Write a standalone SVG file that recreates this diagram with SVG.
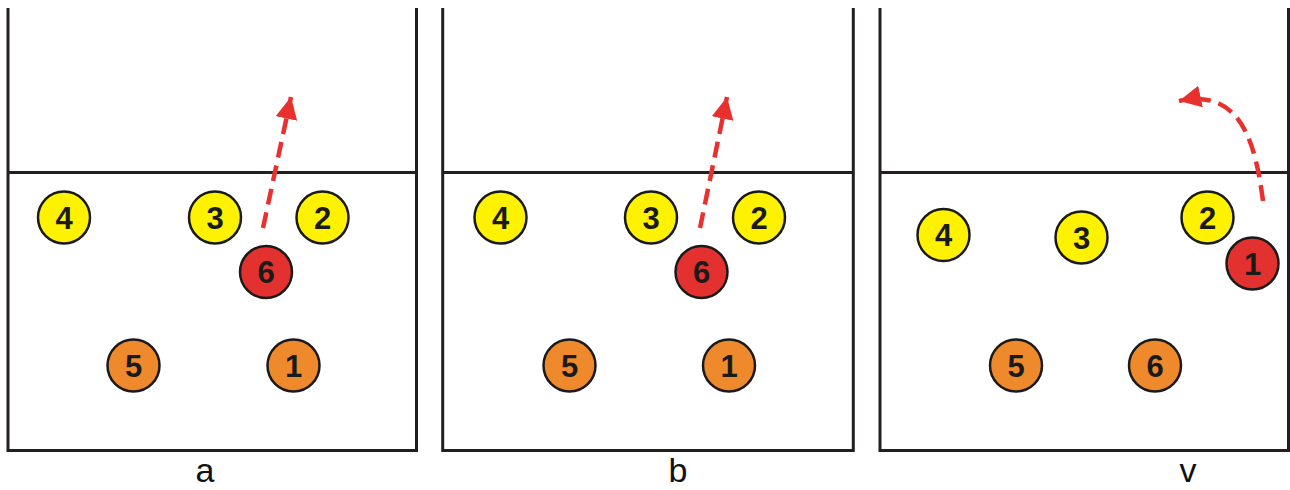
<svg xmlns="http://www.w3.org/2000/svg" width="1290" height="490" viewBox="0 0 1290 490">
<style>
.court{fill:none;stroke:#231f20;stroke-width:3}
.p circle{stroke:#1a1a1a;stroke-width:2.5}
.y{fill:#fff200}
.o{fill:#ee8a2c}
.r{fill:#e2312e}
.p text{font-family:"Liberation Sans",Arial,sans-serif;font-weight:bold;font-size:31px;fill:#1a1a1a;text-anchor:middle}
.mv{fill:none;stroke:#e8312f;stroke-width:4.5;stroke-dasharray:16 8}
.lbl{font-family:"Liberation Sans",Arial,sans-serif;font-size:34px;fill:#111;text-anchor:middle}
</style>
<defs>
<marker id="ah" markerUnits="userSpaceOnUse" markerWidth="24" markerHeight="24" refX="22" refY="11" orient="auto">
<path d="M0,0 L22,11 L0,22 z" fill="#e8312f"/>
</marker>
</defs>
<rect width="1290" height="490" fill="#fff"/>
<g id="courts">
<path class="court" d="M8,8 V450.5 H416.5 V8 M8,172.5 H416.5"/>
<path class="court" d="M442.7,8 V450.5 H853.3 V8 M442.7,172.5 H853.3"/>
<path class="court" d="M880,8 V450.5 H1288.5 V8 M880,172.5 H1288.5"/>
</g>
<g id="connectors">
<path class="mv" d="M263,228 L291,97" marker-end="url(#ah)"/>
<path class="mv" d="M700,228 L727,97" marker-end="url(#ah)"/>
<path class="mv" d="M1263,201 C1255,140 1240,88 1179,101" marker-end="url(#ah)"/>
</g>
<g id="a-4" class="p"><circle class="y" cx="64" cy="217.5" r="26"/><text x="64" y="228.5">4</text></g>
<g id="a-3" class="p"><circle class="y" cx="215" cy="217.5" r="26"/><text x="215" y="228.5">3</text></g>
<g id="a-2" class="p"><circle class="y" cx="322.5" cy="217.5" r="26"/><text x="322.5" y="228.5">2</text></g>
<g id="a-6" class="p"><circle class="r" cx="266" cy="272" r="26"/><text x="266" y="283">6</text></g>
<g id="a-5" class="p"><circle class="o" cx="133.5" cy="365.5" r="26"/><text x="133.5" y="376.5">5</text></g>
<g id="a-1" class="p"><circle class="o" cx="293.5" cy="365.5" r="26"/><text x="293.5" y="376.5">1</text></g>
<g id="b-4" class="p"><circle class="y" cx="500.5" cy="217.5" r="26"/><text x="500.5" y="228.5">4</text></g>
<g id="b-3" class="p"><circle class="y" cx="651" cy="217.5" r="26"/><text x="651" y="228.5">3</text></g>
<g id="b-2" class="p"><circle class="y" cx="759" cy="217.5" r="26"/><text x="759" y="228.5">2</text></g>
<g id="b-6" class="p"><circle class="r" cx="701.5" cy="272" r="26"/><text x="701.5" y="283">6</text></g>
<g id="b-5" class="p"><circle class="o" cx="569.5" cy="365.5" r="26"/><text x="569.5" y="376.5">5</text></g>
<g id="b-1" class="p"><circle class="o" cx="729" cy="365.5" r="26"/><text x="729" y="376.5">1</text></g>
<g id="v-4" class="p"><circle class="y" cx="943.5" cy="235" r="26"/><text x="943.5" y="246">4</text></g>
<g id="v-3" class="p"><circle class="y" cx="1081.5" cy="237.5" r="26"/><text x="1081.5" y="248.5">3</text></g>
<g id="v-2" class="p"><circle class="y" cx="1207.5" cy="217.5" r="26"/><text x="1207.5" y="228.5">2</text></g>
<g id="v-1" class="p"><circle class="r" cx="1252.5" cy="263.5" r="26"/><text x="1252.5" y="274.5">1</text></g>
<g id="v-5" class="p"><circle class="o" cx="1016" cy="365.5" r="26"/><text x="1016" y="376.5">5</text></g>
<g id="v-6" class="p"><circle class="o" cx="1155" cy="365.5" r="26"/><text x="1155" y="376.5">6</text></g>
<g id="labels">
<text class="lbl" x="205" y="482">a</text>
<text class="lbl" x="678" y="482">b</text>
<text class="lbl" x="1188" y="482">v</text>
</g>
</svg>
